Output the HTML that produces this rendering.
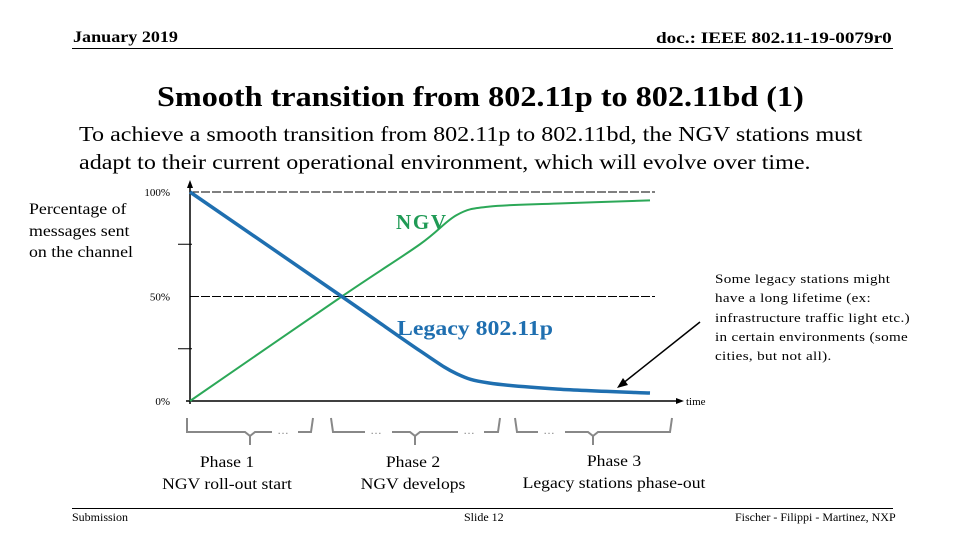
<!DOCTYPE html>
<html><head><meta charset="utf-8"><style>
body{margin:0;width:960px;height:540px;background:#fff;overflow:hidden;font-family:"Liberation Serif",serif;}
.t{position:absolute;white-space:nowrap;color:#000;transform-origin:0 0}
.c{position:absolute;white-space:nowrap;color:#000;text-align:center;transform-origin:50% 0}
</style></head><body>
<div class="t" style="left:73px;top:29px;font-size:16px;font-weight:bold;transform:scaleX(1.13)">January 2019</div>
<div class="t" style="left:656px;top:30px;font-size:16px;font-weight:bold;transform:scaleX(1.2)">doc.: IEEE 802.11-19-0079r0</div>
<div style="position:absolute;left:72px;top:48px;width:821px;height:1px;background:#000"></div>
<div class="t" style="left:157px;top:81px;font-size:29px;font-weight:bold;transform:scaleX(1.11)">Smooth transition from 802.11p to 802.11bd (1)</div>
<div class="t" style="left:79px;top:120px;font-size:21.5px;line-height:28px;transform:scaleX(1.12)">To achieve a smooth transition from 802.11p to 802.11bd, the NGV stations must<br>adapt to their current operational environment, which will evolve over time.</div>
<div class="t" style="left:29px;top:199px;font-size:15.5px;line-height:21.5px;transform:scaleX(1.15)">Percentage of<br>messages sent<br>on the channel</div>
<div class="t" style="left:715px;top:269px;font-size:13px;line-height:19.3px;letter-spacing:0.3px;transform:scaleX(1.16)">Some legacy stations might<br>have a long lifetime (ex:<br>infrastructure traffic light etc.)<br>in certain environments (some<br>cities, but not all).</div>
<svg width="960" height="540" style="position:absolute;left:0;top:0">
<g id="axes"></g><g id="series"></g>
<g stroke="#888" stroke-width="2" fill="none">
<path d="M187 418 V432 H245 L250 436 V445 M250 436 L255 432 H272 M298 432 H311 L313 418"/>
<text x="277" y="434" fill="#888" stroke="none" font-size="12" font-family="Liberation Sans">…</text>
<path d="M331 418 L333 432 H365 M392 432 H410 L415 436 V445 M415 436 L420 432 H458 M484 432 H498 L500 418"/>
<text x="370" y="434" fill="#888" stroke="none" font-size="12" font-family="Liberation Sans">…</text>
<text x="463" y="434" fill="#888" stroke="none" font-size="12" font-family="Liberation Sans">…</text>
<path d="M515 418 L517 432 H538 M565 432 H588 L593 436 V445 M593 436 L598 432 H670 L672 418"/>
<text x="543" y="434" fill="#888" stroke="none" font-size="12" font-family="Liberation Sans">…</text>
</g>
<line x1="700" y1="322" x2="622" y2="384" stroke="#000" stroke-width="1.5"/>
<polygon points="617,388 623,378 628,385" fill="#000"/>
</svg>
<div class="c" style="left:147px;top:452px;width:160px;font-size:16px;line-height:22px;transform:scaleX(1.1)">Phase 1<br>NGV roll-out start</div>
<div class="c" style="left:333px;top:452px;width:160px;font-size:16px;line-height:22px;transform:scaleX(1.1)">Phase 2<br>NGV develops</div>
<div class="c" style="left:504px;top:451px;width:220px;font-size:16px;line-height:22px;transform:scaleX(1.1)">Phase 3<br>Legacy stations phase-out</div>
<div style="position:absolute;left:72px;top:508px;width:821px;height:1px;background:#000"></div>
<div class="t" style="left:72px;top:510px;font-size:12px">Submission</div>
<div class="t" style="left:464px;top:510px;font-size:12px">Slide 12</div>
<div class="t" style="left:735px;top:510px;font-size:12px">Fischer - Filippi - Martinez, NXP</div>
<script>
const timePoints=[0,0.33,0.5,0.58,0.65,0.8,1.0];
const legacyValues=[100,50,24,13,8.6,5.7,3.8];
const ngvValues=[0,50,75,89,93,94.5,96];
const yTickValues=[0,50,100];
const yTickLabels=["0%","50%","100%"];
const minorTicks=[25,75];
const NS="http://www.w3.org/2000/svg";
const X=t=>190+t*460, Y=v=>401-v*2.09;
function mk(tag,attrs,parent){const e=document.createElementNS(NS,tag);for(const k in attrs)e.setAttribute(k,attrs[k]);parent.appendChild(e);return e;}
const ax=document.getElementById('axes'), se=document.getElementById('series');
yTickValues.forEach((v,i)=>{
 if(v>0){const l=mk('line',{x1:190,x2:X(1)+5,y1:Y(v),y2:Y(v),stroke:'#000','stroke-dasharray':'9 2','stroke-width':1},ax);
 
 }
 const t=mk('text',{x:170,y:Y(v)+4,'font-size':11,'text-anchor':'end','font-family':'Liberation Serif'},ax);t.textContent=yTickLabels[i];
 
 
});
minorTicks.forEach(v=>{const l=mk('line',{x1:178,x2:192,y1:Y(v),y2:Y(v),stroke:'#000'},ax);
 
 });
const ya=mk('line',{x1:190,y1:404,x2:190,y2:184,stroke:'#000','stroke-width':1.5},ax);


const xa=mk('line',{x1:186,y1:401,x2:678,y2:401,stroke:'#000','stroke-width':1.5},ax);


mk('polygon',{points:'684,401 676,398 676,404',fill:'#000'},ax);
mk('polygon',{points:'190,180 187,188 193,188',fill:'#000'},ax);
const tl=mk('text',{x:686,y:405,'font-size':11,'font-family':'Liberation Serif'},ax);tl.textContent='time';


function smooth(vals){const p=timePoints.map((t,i)=>[X(t),Y(vals[i])]);let d='M'+p[0][0]+' '+p[0][1];
 for(let i=0;i<p.length-1;i++){const p0=p[i-1]||p[i],p1=p[i],p2=p[i+1],p3=p[i+2]||p2;
 d+=` C${p1[0]+(p2[0]-p0[0])/6} ${p1[1]+(p2[1]-p0[1])/6} ${p2[0]-(p3[0]-p1[0])/6} ${p2[1]-(p3[1]-p1[1])/6} ${p2[0]} ${p2[1]}`;}return d;}
const g=mk('path',{d:smooth(ngvValues),stroke:'#2ca858',fill:'none','stroke-width':2},se);


const b=mk('path',{d:smooth(legacyValues),stroke:'#1f6fb0',fill:'none','stroke-width':3.5},se);


const n=mk('text',{x:396,y:229,'font-size':21,'font-weight':'bold',fill:'#1f9a55','font-family':'Liberation Serif',textLength:50},se);n.textContent='NGV';


const lg=mk('text',{x:397,y:335,'font-size':21,'font-weight':'bold',fill:'#1f6fb0','font-family':'Liberation Serif',textLength:156,lengthAdjust:'spacingAndGlyphs'},se);lg.textContent='Legacy 802.11p';


</script>
</body></html>
